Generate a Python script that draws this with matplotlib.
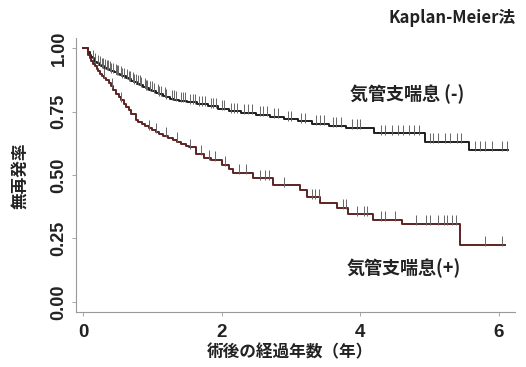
import matplotlib
matplotlib.use("Agg")
import matplotlib.pyplot as plt

# asthma (-) : step times / survival after step
neg_times = [0, 0.08, 0.1, 0.12, 0.14, 0.16, 0.18, 0.2, 0.23, 0.26, 0.3, 0.34, 0.37,
             0.41, 0.45, 0.49, 0.53, 0.57, 0.62, 0.66, 0.7, 0.74, 0.78, 0.83, 0.87,
             0.91, 0.95, 1.0, 1.05, 1.1, 1.15, 1.2, 1.25, 1.32, 1.38, 1.5, 1.65,
             1.8, 1.95, 2.1, 2.28, 2.5, 2.7, 2.9, 3.1, 3.3, 3.55, 3.8, 4.2, 4.93, 5.57]
neg_surv = [1.0, 0.985, 0.975, 0.967, 0.96, 0.953, 0.947, 0.941, 0.935, 0.929, 0.924,
            0.92, 0.915, 0.91, 0.905, 0.9, 0.895, 0.89, 0.884, 0.878, 0.872, 0.866,
            0.86, 0.854, 0.848, 0.842, 0.836, 0.83, 0.824, 0.818, 0.812, 0.806, 0.80,
            0.796, 0.792, 0.787, 0.78, 0.772, 0.762, 0.752, 0.745, 0.738, 0.73,
            0.72, 0.712, 0.703, 0.695, 0.686, 0.665, 0.632, 0.600]
neg_end = 6.13
neg_censor = [0.14, 0.18, 0.22, 0.24, 0.27, 0.29, 0.32, 0.34, 0.36, 0.39, 0.41, 0.43,
              0.47, 0.49, 0.51, 0.55, 0.57, 0.59, 0.64, 0.66, 0.68, 0.72, 0.74, 0.76,
              0.8, 0.82, 0.84, 0.89, 0.91, 0.93, 0.97, 0.99, 1.02, 1.08, 1.1, 1.12,
              1.18, 1.2, 1.28, 1.31, 1.34, 1.41, 1.44, 1.47, 1.55, 1.58, 1.62, 1.68,
              1.72, 1.76, 1.84, 1.88, 1.92, 2.0, 2.04, 2.14, 2.18, 2.22, 2.32, 2.38,
              2.44, 2.55, 2.6, 2.65, 2.76, 2.82, 2.95, 3.0, 3.15, 3.2, 3.36, 3.42,
              3.48, 3.6, 3.65, 3.72, 3.88, 3.95, 4.0, 4.3, 4.36, 4.45, 4.55, 4.62,
              4.7, 4.78, 4.85, 5.0, 5.05, 5.12, 5.22, 5.3, 5.4, 5.45, 5.65, 5.72,
              5.8, 5.9, 6.05, 6.12]

# asthma (+)
pos_times = [0, 0.08, 0.1, 0.12, 0.15, 0.17, 0.2, 0.22, 0.25, 0.28, 0.31, 0.33, 0.37,
             0.4, 0.44, 0.48, 0.52, 0.55, 0.59, 0.62, 0.66, 0.7, 0.76, 0.8, 0.85,
             0.9, 0.95, 1.0, 1.05, 1.1, 1.15, 1.22, 1.3, 1.36, 1.42, 1.48, 1.53,
             1.63, 1.75, 1.85, 2.0, 2.1, 2.16, 2.45, 2.74, 3.13, 3.23, 3.42, 3.67,
             3.82, 4.18, 4.6, 5.44]
pos_surv = [1.0, 0.975, 0.962, 0.95, 0.94, 0.93, 0.92, 0.91, 0.9, 0.89, 0.882, 0.874,
            0.862, 0.85, 0.835, 0.82, 0.808, 0.795, 0.782, 0.77, 0.755, 0.74, 0.716,
            0.708, 0.70, 0.692, 0.685, 0.678, 0.67, 0.662, 0.655, 0.646, 0.638,
            0.63, 0.622, 0.616, 0.61, 0.585, 0.567, 0.56, 0.54, 0.525, 0.51, 0.488,
            0.46, 0.44, 0.413, 0.39, 0.37, 0.346, 0.323, 0.307, 0.224]
pos_end = 6.09
pos_censor = [0.3, 0.42, 0.55, 0.95, 1.05, 1.2, 1.35, 1.55, 1.7, 1.82, 1.9, 2.05,
              2.25, 2.35, 2.55, 2.62, 2.68, 2.9, 3.3, 3.35, 3.4, 3.75, 3.8, 3.95,
              4.05, 4.1, 4.3, 4.35, 4.5, 4.8, 4.95, 5.0, 5.12, 5.2, 5.25, 5.32,
              5.38, 5.8, 6.05]

y_ticks = [0.0, 0.25, 0.5, 0.75, 1.0]
y_ticklabels = ["0.00", "0.25", "0.50", "0.75", "1.00"]
x_ticks = [0, 2, 4, 6]

JP = ["Noto Sans CJK JP", "DejaVu Sans"]
NUM = ["Liberation Sans", "DejaVu Sans"]


def surv_at(times, surv, t):
    s = surv[0]
    for ti, si in zip(times, surv):
        if ti <= t:
            s = si
    return s


fig = plt.figure(figsize=(5.26, 3.67), dpi=100)
ax = fig.add_axes([0.1445, 0.150, 0.8345, 0.746])

for times, surv, end, cens, col in [
        (neg_times, neg_surv, neg_end, neg_censor, "#1e1e1e"),
        (pos_times, pos_surv, pos_end, pos_censor, "#5c2424")]:
    ax.step(times + [end], surv + [surv[-1]], where="post", color=col, lw=1.4)
    cy = [surv_at(times, surv, c) for c in cens]
    ax.plot(cens, [v + 0.014 for v in cy], ls="none", marker="|", ms=7,
            mew=0.7, color="#666666")

ax.set_xlim(-0.1, 6.23)
ax.set_ylim(-0.04, 1.04)
for s in ["top", "right"]:
    ax.spines[s].set_visible(False)
for s in ["left", "bottom"]:
    ax.spines[s].set_color("#999999")
    ax.spines[s].set_linewidth(0.8)

ax.set_yticks(y_ticks)
ax.set_yticklabels(y_ticklabels, rotation=90, va="center", family=NUM,
                   fontsize=13, fontweight="bold", color="#222222")
ax.set_xticks(x_ticks)
ax.set_xticklabels([str(v) for v in x_ticks], family=NUM, fontsize=13.5,
                   fontweight="bold", color="#222222")
ax.tick_params(axis="both", length=3, color="#999999", width=0.6)
ax.tick_params(axis="y", pad=3)
ax.tick_params(axis="x", pad=6)

fig.text(0.551, 0.040, "術後の経過年数（年）", family=JP, fontsize=12,
         fontweight="bold", ha="center", va="center", color="#222222")
fig.text(0.038, 0.52, "無再発率", family=JP, fontsize=12, fontweight="bold",
         rotation=90, ha="center", va="center", color="#222222")
fig.text(0.860, 0.950, "Kaplan-Meier法", family=JP, fontsize=12,
         fontweight="bold", ha="center", va="center", color="#222222")
ax.text(4.68, 0.82, "気管支喘息 (-)", family=JP, fontsize=13, fontweight="bold",
        ha="center", va="center", color="#222222")
ax.text(4.62, 0.134, "気管支喘息(+)", family=JP, fontsize=13, fontweight="bold",
        ha="center", va="center", color="#222222")

fig.savefig("out.png", dpi=100)
